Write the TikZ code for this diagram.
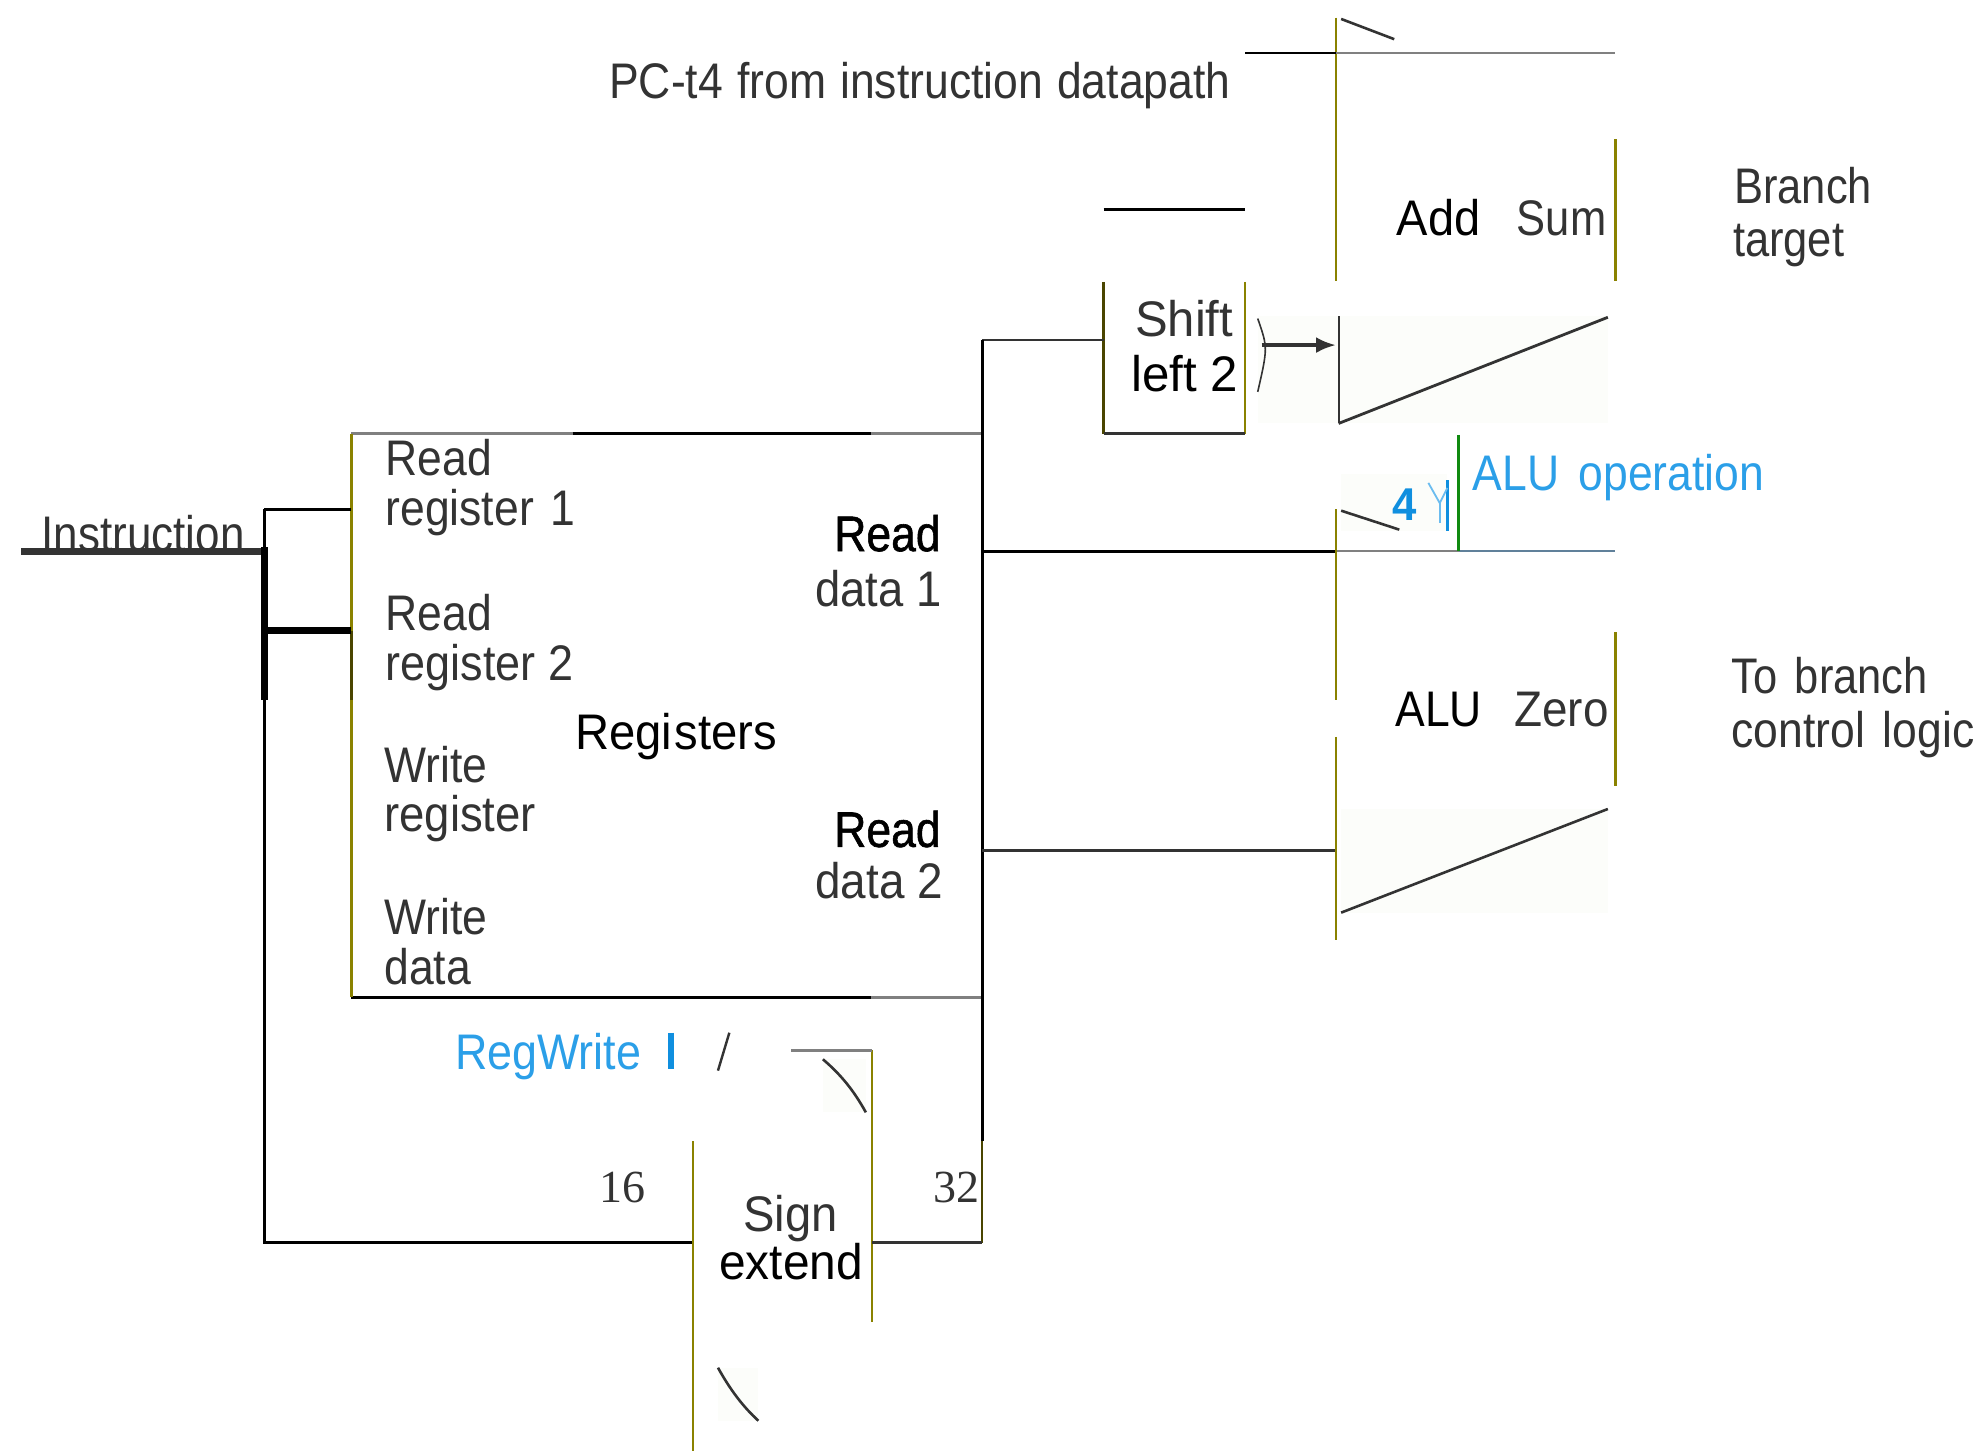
\documentclass[tikz,border=0pt]{standalone}
\usepackage{fontspec}
\usetikzlibrary{arrows.meta}
\setmainfont{Liberation Sans}
\newfontfamily\heavyface[FakeBold=1.2]{Liberation Sans}
\newfontfamily\numface{Liberation Serif}
\definecolor{olv}{HTML}{8A8200}
\definecolor{dolv}{HTML}{4A4500}
\definecolor{dgray}{HTML}{333333}
\definecolor{mgray}{HTML}{808080}
\definecolor{skyb}{HTML}{2B9FE8}
\definecolor{barb}{HTML}{108FDF}
\definecolor{pale}{HTML}{FCFDFA}
\definecolor{grn}{HTML}{108A10}
\definecolor{slate}{HTML}{60809A}
\tikzset{
  x=0.632pt,y=-0.632pt,
  lbl/.style={anchor=base west,inner sep=0pt,outer sep=0pt,font=\fontsize{25}{25}\selectfont,text=dgray},
  lblk/.style={lbl,text=black},
  lblu/.style={lbl,text=skyb},
  numl/.style={anchor=base west,inner sep=0pt,font=\numface\fontsize{23}{23}\selectfont,text=dgray},
  wire/.style={draw=black,line width=1.4pt},
  gwire/.style={draw=mgray,line width=1.3pt},
  owire/.style={draw=olv,line width=1.1pt},
  fat/.style={draw=black,line width=3.4pt},
  slant/.style={draw=dgray,line width=1.3pt},
}
\begin{document}
\begin{tikzpicture}
\useasboundingbox (0,0) rectangle (1568,1148);
% pale backdrops
\fill[pale] (995,250) rectangle (1272,335);
\fill[pale] (1061,375) rectangle (1145,420);
\fill[pale] (1061,640) rectangle (1272,722);
\fill[pale] (651,838) rectangle (685,880);
\fill[pale] (568,1082) rectangle (600,1124);
% key coordinates
\coordinate (addTL) at (1057,14);
\coordinate (addIn) at (1057,42);
\coordinate (addBL) at (1057,222);
\coordinate (addOut) at (1278,42);
\coordinate (addTR) at (1278,110);
\coordinate (addBR) at (1278,222);
\coordinate (pcIn) at (985,42);
\coordinate (shTL) at (873,223);
\coordinate (shBL) at (873,343);
\coordinate (shTR) at (985,223);
\coordinate (shBR) at (985,343);
\coordinate (shIn) at (873,269);
\coordinate (regTL) at (278,343);
\coordinate (regBL) at (278,789);
\coordinate (regTR) at (777,343);
\coordinate (regBR) at (777,789);
\coordinate (busTop) at (777,269);
\coordinate (busBot) at (777,983);
\coordinate (rd1) at (777,436);
\coordinate (rd2) at (777,673);
\coordinate (aluIn1) at (1057,436);
\coordinate (aluIn2) at (1057,673);
\coordinate (aluOp) at (1154,436);
\coordinate (aluOut) at (1278,436);
\coordinate (insA) at (17,436);
\coordinate (insB) at (209,436);
\coordinate (insC) at (209,554);
\coordinate (insT) at (209,403);
\coordinate (insM) at (209,499);
\coordinate (insE) at (209,983);
\coordinate (rr1) at (278,403);
\coordinate (rr2) at (278,499);
\coordinate (sxIn) at (549,983);
\coordinate (sxOut) at (690,983);
% text
\node[lbl,xscale=.89] (pc) at (482,78) {PC-t4\hspace{.04em} from\hspace{.04em} instruction\hspace{.04em} datapath};
\node[lblk,xscale=.94] (add) at (1105,186) {Add};
\node[lbl,xscale=.87] (sum) at (1200,186) {Sum};
\node[lbl,xscale=.87] (br1) at (1372,161) {Branch};
\node[lbl,xscale=.87] (br2) at (1371,203) {target};
\node[lbl,xscale=.98] (sh1) at (898,266) {Shift};
\node[lblk,xscale=.985] (sh2) at (895,310) {left 2};
\node[lbl,xscale=.89] (r1a) at (305,376) {Read};
\node[lbl,xscale=.89] (r1b) at (305,416) {register\hspace{.1em} 1};
\node[lbl,xscale=.89] (r2a) at (305,499) {Read};
\node[lbl,xscale=.9] (r2b) at (305,538) {register 2};
\node[lbl,xscale=.89] (w1a) at (304,619) {Write};
\node[lbl,xscale=.91] (w1b) at (304,658) {register};
\node[lbl,xscale=.89] (w2a) at (304,739) {Write};
\node[lbl,xscale=.89] (w2b) at (304,779) {data};
\node[lblk,xscale=.945] (regs) at (455,593) {Regi\hspace{.05em}sters};
\node[lblk,xscale=.89,font=\heavyface\fontsize{25}{25}\selectfont] (d1a) at (660,436) {Read};
\node[lbl,xscale=.907] (d1b) at (645,480) {data 1};
\node[lblk,xscale=.89,font=\heavyface\fontsize{25}{25}\selectfont] (d2a) at (660,670) {Read};
\node[lbl,xscale=.917] (d2b) at (645,711) {data 2};
\node[lblu,xscale=.89] (aop) at (1165,388) {ALU\hspace{.16em} operation};
\node[lblk,xscale=.89] (alu) at (1104,575) {ALU};
\node[lbl,xscale=.917] (zero) at (1198,575) {Zero};
\node[lbl,xscale=.87] (tb1) at (1370,549) {To\hspace{.12em} branch};
\node[lbl,xscale=.89] (tb2) at (1370,591) {control\hspace{.12em} logic};
\node[lbl,xscale=.943] (sg1) at (588,974) {Sign};
\node[lblk,xscale=.957] (sg2) at (569,1012) {extend};
\node[lblu,xscale=.898] (rw) at (360,846) {RegWrite};
\node[numl] (n16) at (474,951) {16};
\node[numl] (n32) at (738,951) {32};
\node[lblk,xscale=.95,font=\bfseries\fontsize{23}{23}\selectfont,text=barb] (four) at (1102,412) {4};
\node[lbl,xscale=.88] (ins) at (33,436) {Instruction};
% Add
\draw[owire] (addTL) -- (addBL);
\draw[owire] (addTR) -- (addBR);
\draw[wire] (pcIn) -- (addIn);
\draw[gwire] (addIn) -- (addOut);
\draw[wire] (873,166) -- (985,166);
\draw[slant] (1061,15) -- (1103,31);
% Shift
\draw[draw=dolv,line width=1.1pt] (shTL) -- (shBL);
\draw[owire] (shTR) -- (shBR);
\draw[gwire,draw=dgray] (shBL) -- (shBR);
\draw[wire,draw=dgray] (busTop) -- (shIn);
\draw[draw=dgray,line width=.8pt] (995,252) .. controls (1003,275) .. (995,310);
\draw[draw=dgray,line width=2pt,-{Latex[length=10pt,width=8pt]}] (998,273) -- (1057,273);
\draw[draw=dgray,line width=1pt] (1059,250) -- (1059,335);
\draw[slant,line width=1.4pt] (1059,335) -- (1272,251);
% Registers
\draw[gwire] (regTL) -- (453,343);
\draw[wire] (453,343) -- (689,343);
\draw[gwire] (689,343) -- (regTR);
\draw[wire] (regBL) -- (689,789);
\draw[gwire] (689,789) -- (regBR);
\draw[owire] (regTL) -- (regBL);
\draw[draw=dolv,line width=1.1pt] (278,499) -- (278,554);
\draw[wire] (busTop) -- (777,903);
\draw[draw=dolv,line width=1.3pt] (777,903) -- (busBot);
% Instruction wiring
\draw[wire,line cap=square] (insT) -- (rr1);
\draw[wire] (insT) -- (insE) -- (sxIn);
\draw[fat,draw=dgray] (insA) -- (insB);
\draw[fat] (209,433) -- (insC);
\draw[fat] (insM) -- (rr2);
% ALU
\draw[wire] (rd1) -- (aluIn1);
\draw[gwire] (aluIn1) -- (aluOp);
\draw[gwire,draw=slate] (aluOp) -- (aluOut);
\draw[wire,draw=dgray] (rd2) -- (aluIn2);
\draw[owire] (1057,403) -- (1057,554);
\draw[owire] (1057,583) -- (1057,744);
\draw[owire] (1278,500) -- (1278,622);
\draw[draw=grn,line width=1.3pt] (1154,344) -- (aluOp);
\draw[slant] (1061,404) -- (1107,419);
\draw[slant] (1061,722) -- (1272,640);
\draw[draw=barb,line width=1.3pt] (1145,380) -- (1145,420);
\draw[draw=skyb!70,line width=.9pt] (1130,382) -- (1139,398) -- (1145,386);
\draw[draw=skyb!70,line width=.9pt] (1139,398) -- (1139,414);
% Sign extend
\draw[owire] (548,903) -- (548,1148);
\draw[owire] (690,831) -- (690,1046);
\draw[gwire] (626,831) -- (690,831);
\draw[draw=dgray,line width=1.1pt] (sxOut) -- (busBot);
\draw[slant] (651,838) .. controls (665,850) and (675,862) .. (685,880);
\draw[slant] (568,1082) .. controls (578,1100) and (588,1113) .. (600,1124);
\draw[draw=barb,line width=3pt] (531,817) -- (531,846);
\draw[draw=dgray,line width=1.2pt] (568,847) -- (577,817);
\end{tikzpicture}
\end{document}
